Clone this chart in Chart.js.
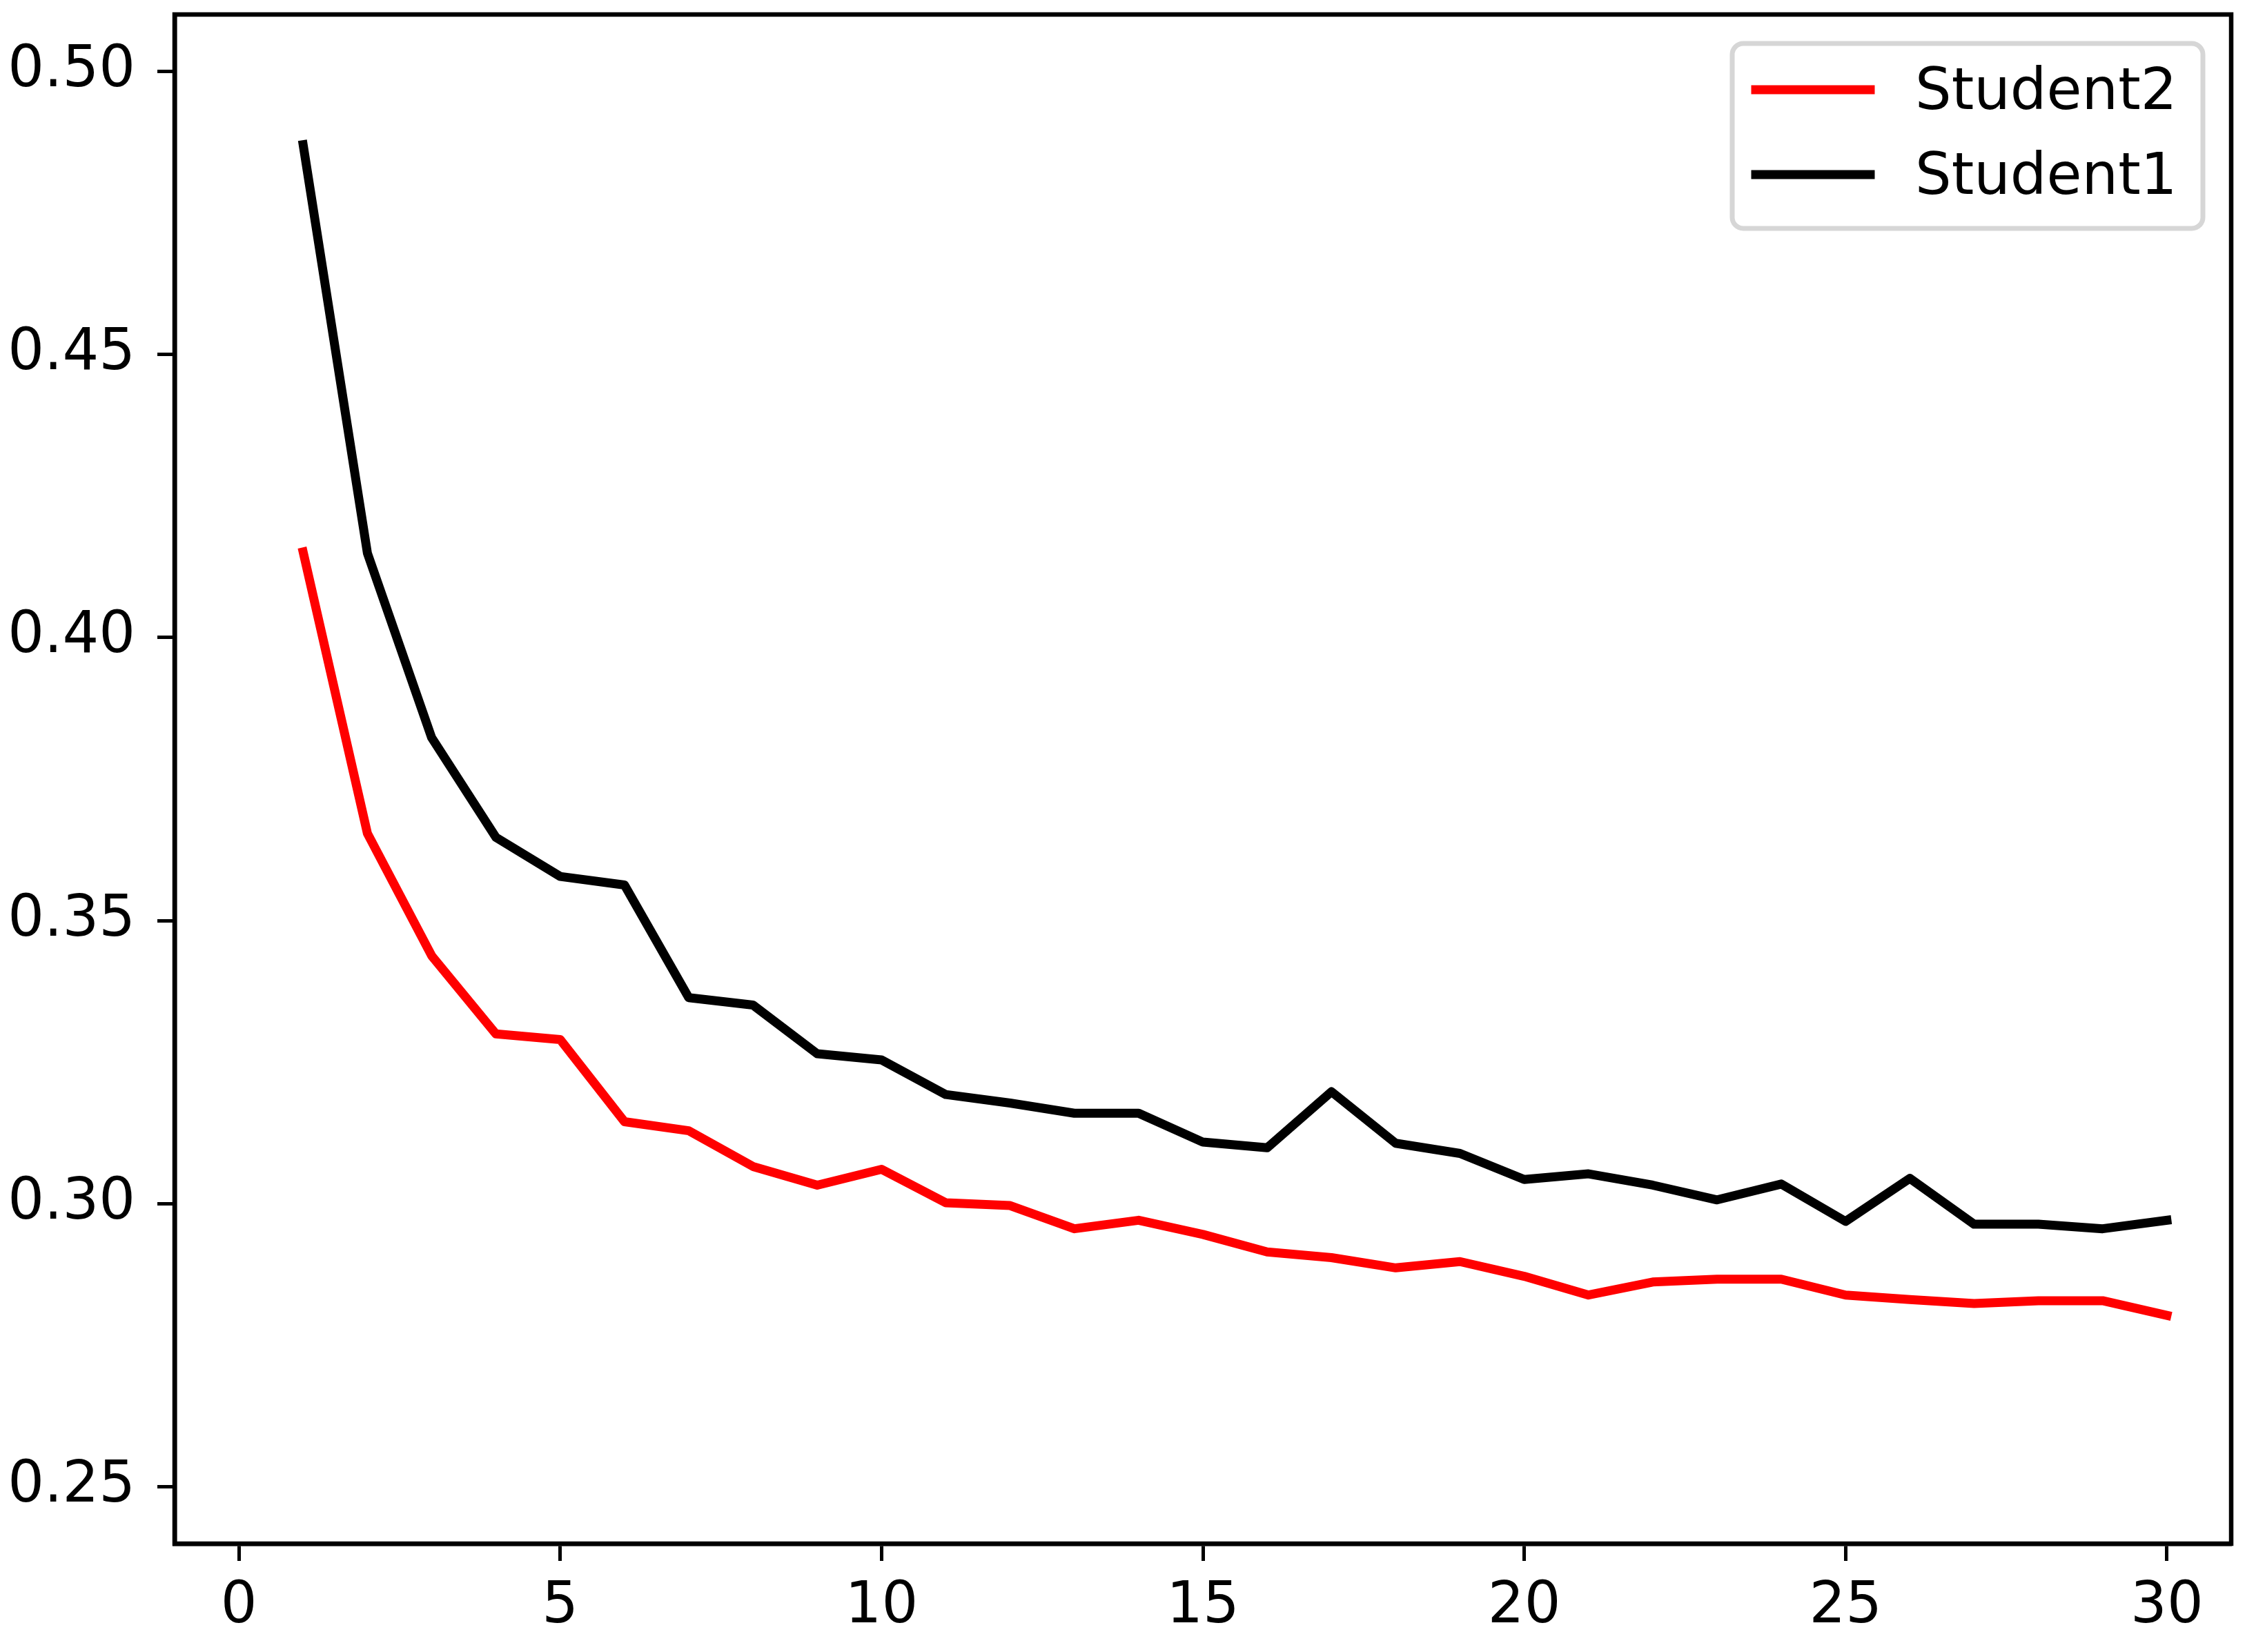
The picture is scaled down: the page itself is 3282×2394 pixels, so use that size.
<!DOCTYPE html>
<html>
<head>
<meta charset="utf-8">
<script src="https://cdn.jsdelivr.net/npm/chart.js@4.4.0/dist/chart.umd.min.js"></script>
<style>
    html, body { margin: 0; padding: 0; background: #fff; }
    canvas { display: block; }
</style>
</head>
<body>
<canvas id="myChart" width="3282" height="2394"></canvas>
<script>
const epochs = [1,2,3,4,5,6,7,8,9,10,11,12,13,14,15,16,17,18,19,20,21,22,23,24,25,26,27,28,29,30]

const student1 = [0.4870, 0.4149, 0.3823, 0.3647, 0.3578, 0.3563, 0.3364, 0.3351, 0.3265, 0.3254,
                  0.3193, 0.3178, 0.3160, 0.3160, 0.3109, 0.3099, 0.3198, 0.3107, 0.3089, 0.3043,
                  0.3053, 0.3033, 0.3007, 0.3035, 0.2969, 0.3045, 0.2964, 0.2964, 0.2956, 0.2971]

const student2 = [0.4151, 0.3654, 0.3438, 0.3300, 0.3290, 0.3145, 0.3129, 0.3066, 0.3033, 0.3061,
                  0.3002, 0.2997, 0.2956, 0.2971, 0.2946, 0.2915, 0.2905, 0.2887, 0.2898, 0.2872,
                  0.2839, 0.2862, 0.2867, 0.2867, 0.2839, 0.2831, 0.2824, 0.2829, 0.2829, 0.2803]

const xTicks = [0, 5, 10, 15, 20, 25, 30]
const yTicks = [0.25, 0.30, 0.35, 0.40, 0.45, 0.50]

const FONT = '"DejaVu Sans", sans-serif'
const FS = 83
const LW = 13
const SPINE = 6.5
const TICKW = 5

// frame round the plot area + legend box in the top right corner
const framePlugin = {
    id: 'frame',
    afterDraw(chart) {
        const ctx = chart.ctx
        const a = chart.chartArea
        ctx.save()
        ctx.strokeStyle = '#000'
        ctx.lineWidth = SPINE
        ctx.strokeRect(a.left, a.top, a.right - a.left, a.bottom - a.top)

        // legend
        const w = 682, h = 268, r = 16
        const x0 = a.right - 41 - w
        const y0 = a.top + 42
        ctx.beginPath()
        ctx.roundRect(x0, y0, w, h, r)
        ctx.fillStyle = 'rgba(255,255,255,0.8)'
        ctx.fill()
        ctx.lineWidth = 7
        ctx.strokeStyle = '#d6d6d6'
        ctx.stroke()

        const rows = [71, 194]
        chart.data.datasets.forEach((ds, i) => {
            const yy = y0 + rows[i]
            ctx.beginPath()
            ctx.moveTo(x0 + 34, yy - 4)
            ctx.lineTo(x0 + 200, yy - 4)
            ctx.lineWidth = LW
            ctx.lineCap = 'square'
            ctx.strokeStyle = ds.borderColor
            ctx.stroke()

            ctx.fillStyle = '#000'
            ctx.font = FS + 'px ' + FONT
            ctx.textBaseline = 'middle'
            ctx.textAlign = 'left'
            ctx.fillText(ds.label, x0 + 265, yy + 2)
        })
        ctx.restore()
    }
}

const ctx = document.getElementById("myChart").getContext("2d")

const data = {
    labels: epochs,
    datasets: [
        {
            label: "Student2",
            data: epochs.map((e, i) => ({ x: e, y: student2[i] })),
            borderColor: "#ff0000",
            backgroundColor: "#ff0000",
        },
        {
            label: "Student1",
            data: epochs.map((e, i) => ({ x: e, y: student1[i] })),
            borderColor: "#000000",
            backgroundColor: "#000000",
        },
    ],
}

const tickGrid = {
    display: true,
    drawOnChartArea: false,
    drawTicks: true,
    tickLength: 25,
    tickWidth: TICKW,
    tickColor: '#000',
}

const config = {
    type: "line",
    data: data,
    options: {
        responsive: false,
        animation: false,
        devicePixelRatio: 1,
        layout: {
            padding: { top: 21, right: 49, left: 0, bottom: 0 },
        },
        elements: {
            line: {
                borderWidth: LW,
                tension: 0,
                borderCapStyle: 'square',
                borderJoinStyle: 'round',
                fill: false,
            },
            point: { radius: 0 },
        },
        plugins: {
            legend: { display: false },
            tooltip: { enabled: false },
        },
        scales: {
            x: {
                type: 'linear',
                min: -1,
                max: 31,
                afterBuildTicks: (scale) => { scale.ticks = xTicks.map(v => ({ value: v })) },
                afterFit: (scale) => {
                    scale.height = 157
                    scale.paddingLeft = 0
                    scale.paddingRight = 0
                },
                ticks: {
                    color: '#000',
                    font: { family: FONT, size: FS },
                    padding: 18,
                    maxRotation: 0,
                    callback: (v) => String(v),
                },
                grid: tickGrid,
                border: { display: true, color: '#000', width: SPINE },
            },
            y: {
                type: 'linear',
                min: 0.24,
                max: 0.51,
                afterBuildTicks: (scale) => { scale.ticks = yTicks.map(v => ({ value: v })) },
                afterFit: (scale) => {
                    scale.width = 253
                    scale.paddingTop = 0
                    scale.paddingBottom = 0
                },
                ticks: {
                    color: '#000',
                    font: { family: FONT, size: FS },
                    padding: 32,
                    callback: (v) => v.toFixed(2),
                },
                grid: tickGrid,
                border: { display: true, color: '#000', width: SPINE },
            },
        },
    },
    plugins: [framePlugin],
}

const myChart = new Chart(ctx, config)
</script>
</body>
</html>
